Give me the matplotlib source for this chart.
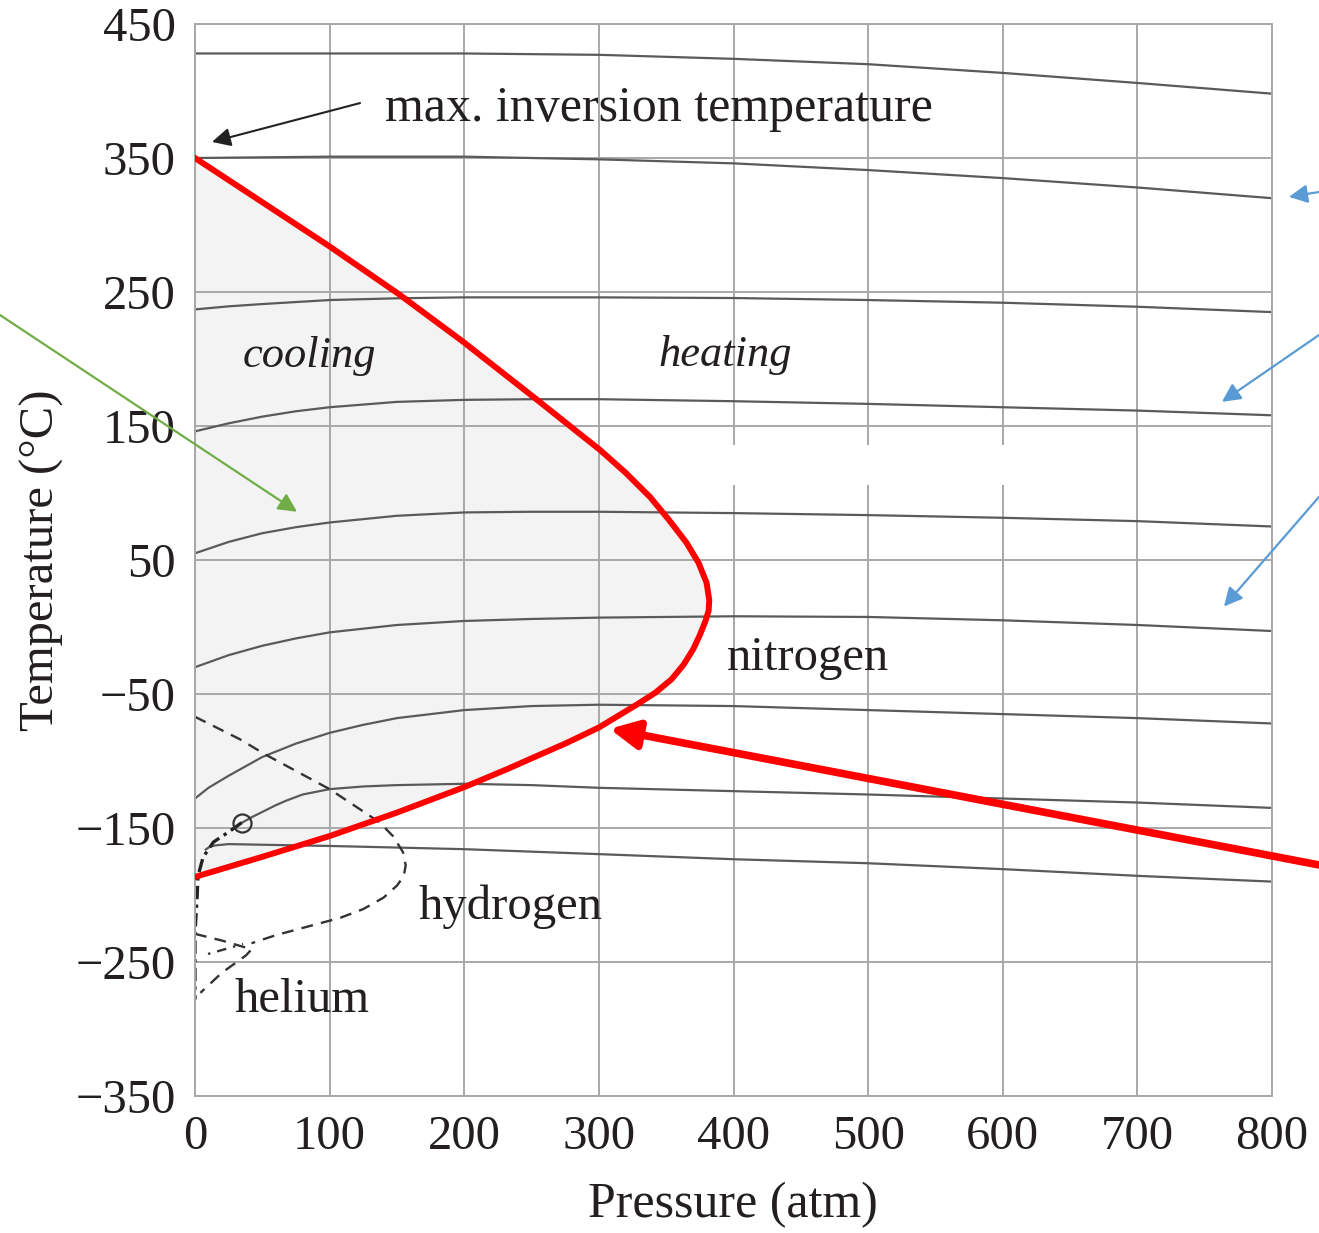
import matplotlib
matplotlib.use("Agg")
import matplotlib.pyplot as plt
from matplotlib.patches import Rectangle

plt.rcParams["font.family"] = "serif"
plt.rcParams["font.serif"] = ["Liberation Serif", "DejaVu Serif"]

# axis ticks
p_ticks = [0, 100, 200, 300, 400, 500, 600, 700, 800]
t_ticks = [-350, -250, -150, -50, 50, 150, 250, 350, 450]

# isenthalps of nitrogen: pressure (atm), temperature (°C)
iso1_p = [0, 100, 200, 300, 400, 500, 600, 700, 800]
iso1_t = [428, 428, 428, 427, 424, 420, 413.5, 406, 398]
iso2_p = [0, 100, 200, 300, 400, 500, 600, 700, 800]
iso2_t = [350, 351, 351, 349, 346, 341, 335, 328, 320]
iso3_p = [0, 25, 50, 100, 150, 200, 300, 400, 500, 600, 700, 800]
iso3_t = [237, 239.3, 241, 244, 245.3, 246, 246, 245.5, 244, 242, 239, 235]
iso4_p = [0, 25, 50, 75, 100, 150, 200, 250, 300, 400, 500, 600, 700, 800]
iso4_t = [146, 152, 157, 161, 164, 168, 169.5, 170, 170, 168.5, 166.5, 164, 161.5, 158]
iso5_p = [0, 25, 50, 75, 100, 150, 200, 250, 300, 400, 500, 600, 700, 800]
iso5_t = [55, 63.5, 70, 74.5, 78, 83, 85.5, 86, 86, 85, 83.5, 81.5, 79, 75]
iso6_p = [0, 25, 50, 75, 100, 150, 200, 250, 300, 400, 500, 600, 700, 800]
iso6_t = [-30, -21, -14, -8.5, -4, 1.5, 4.5, 6, 7, 8, 7.5, 5, 1.5, -3]
iso7_p = [0, 10, 25, 50, 75, 100, 125, 150, 200, 250, 300, 400, 500, 600, 700, 800]
iso7_t = [-128, -120, -111, -97, -87, -79, -73, -68, -62, -59, -58, -59, -62, -65, -68, -72]
iso8_p = [35, 42, 50, 60, 68, 80, 100, 125, 150, 200, 250, 300, 400, 500, 600, 700, 800]
iso8_t = [-146, -142, -138, -133, -129.5, -125, -121, -119, -118, -117, -118, -120,
          -122.5, -125, -128, -131, -135]
iso9_p = [8, 11, 15, 25, 50, 100, 200, 300, 400, 500, 600, 700, 800]
iso9_t = [-166, -164, -163, -162, -162.5, -163.4, -165.8, -169.5, -173.3, -176.3,
          -180.7, -185.7, -190]

# critical point of nitrogen and the two-phase boundary
crit_p = [34.7]
crit_t = [-146]
sat_p = [34.7, 26.4, 13.7, 6, 2.2, 1.5, 0, 0]
sat_t = [-146, -152, -160.5, -171.8, -186, -203, -228, -278]

# inversion curves
n2_p = [0, 50, 100, 152, 199, 251, 301, 320, 338, 352, 365, 374, 380, 382, 381.5,
        379, 375, 370, 363, 354, 342, 328, 300, 275, 250, 232, 200, 150, 100, 50, 0]
n2_t = [350, 317, 284, 248, 213, 172, 132, 115, 97, 80, 63, 48, 33, 20, 12,
        4, -6, -16.7, -28, -39, -49, -58, -75, -87, -98, -106, -119.5, -138.5, -156,
        -171.5, -186.5]
h2_p = [0, 33.4, 52, 100, 137, 147, 154.5, 156.5, 155, 150, 140, 125, 108, 90.6, 60, 42]
h2_t = [-67, -83.8, -95, -121, -145.7, -156, -168, -178, -186, -193, -202, -210.5,
        -217, -221.7, -230, -236]
he_p = [0, 20, 42, 38, 20, 4]
he_t = [-229, -234, -240.5, -245, -258, -273]
he_tick_p = [9.7, 35.7]
he_tick_t = [-244, -236.6]

ink = "#231f20"
grid_c = "#a8a8a8"
iso_c = "#5a5a5a"

fig = plt.figure(figsize=(13.19, 12.33), dpi=100)
ax = fig.add_axes([195 / 1319, 1 - 1096 / 1233, 1077 / 1319, 1072 / 1233])
ax.set_xlim(0, 800)
ax.set_ylim(-350, 450)
ax.set_xticks(p_ticks)
ax.set_yticks(t_ticks)
ax.grid(True, color=grid_c, lw=1.4, zorder=0)
ax.set_axisbelow(True)
ax.tick_params(length=0, labelsize=35, colors=ink, pad=14)
for s in ax.spines.values():
    s.set_color(grid_c)
    s.set_linewidth(1.4)

# cooling region inside the nitrogen inversion curve
ax.fill(n2_p, n2_t, color="#f3f3f3", lw=0, zorder=0.5)
ax.add_patch(Rectangle((370, 106), 280, 30, facecolor="white", edgecolor="none", zorder=1))

for xs, ys in [(iso1_p, iso1_t), (iso2_p, iso2_t), (iso3_p, iso3_t), (iso4_p, iso4_t),
               (iso5_p, iso5_t), (iso6_p, iso6_t), (iso7_p, iso7_t), (iso8_p, iso8_t),
               (iso9_p, iso9_t)]:
    ax.plot(xs, ys, color=iso_c, lw=1.6, zorder=2, solid_joinstyle="round")

ax.plot([0, 0], [350, -278], color="#333333", lw=1.4, ls=(0, (3, 1.5)), zorder=2)
ax.plot(sat_p, sat_t, color="#222222", lw=2.4, ls=(0, (4, 1.6, 1, 1.6)), zorder=2)
ax.plot(crit_p, crit_t, "o", ms=13, mfc="none", mec="#333333", mew=1.6, zorder=3)
ax.plot(h2_p, h2_t, color="#333333", lw=1.7, ls=(0, (5, 3.5)), zorder=2)
ax.plot(he_p, he_t, color="#333333", lw=1.7, ls=(0, (5, 3.5)), zorder=2)
ax.plot(he_tick_p, he_tick_t, color="#333333", lw=1.7, ls=(0, (1, 3, 4, 3)), zorder=2)
ax.plot(n2_p, n2_t, color="red", lw=4.3, zorder=4, solid_joinstyle="round")

ax.text(85, 202, "cooling", fontsize=32, style="italic", color=ink, ha="center", va="center")
ax.text(394, 203, "heating", fontsize=32, style="italic", color=ink, ha="center", va="center")
ax.text(455, -23, "nitrogen", fontsize=35, color=ink, ha="center", va="center")
ax.text(234, -209, "hydrogen", fontsize=35, color=ink, ha="center", va="center")
ax.text(79.5, -278, "helium", fontsize=35, color=ink, ha="center", va="center")

ax.text(141, 387, "max. inversion temperature", fontsize=36, color=ink,
        ha="left", va="center")
ax.annotate("", xy=(12.6, 362), xytext=(122.6, 391),
            arrowprops=dict(arrowstyle="-|>", color="#222222", lw=1.5,
                            mutation_scale=28, shrinkA=0, shrinkB=0))

# callout arrows reaching in from the page margins
def callout(tip, tail, color, lw, head):
    ax.annotate("", xy=tip, xycoords="data", xytext=tail, textcoords="figure fraction",
                annotation_clip=False,
                arrowprops=dict(arrowstyle="-|>", color=color, lw=lw,
                                mutation_scale=head, shrinkA=0, shrinkB=0))

callout((75.8, 86), (0.0, 0.7445), "#70ad47", 1.6, 28)
callout((812.6, 321), (1.0, 0.8443), "#5b9bd5", 1.6, 28)
callout((762.8, 168), (1.0, 0.7283), "#5b9bd5", 1.6, 28)
callout((764.3, 15.3), (1.0, 0.597), "#5b9bd5", 1.6, 28)
callout((308, -76), (1.0, 0.2985), "red", 5.5, 42)

fig.text(42 / 1319, 1 - 560 / 1233, "Temperature (°C)", rotation=90, fontsize=35,
         color=ink, ha="center", va="center")
fig.text(733 / 1319, 1 - 1205 / 1233, "Pressure (atm)", fontsize=36, color=ink,
         ha="center", va="center")

fig.savefig("out.png", dpi=100)
